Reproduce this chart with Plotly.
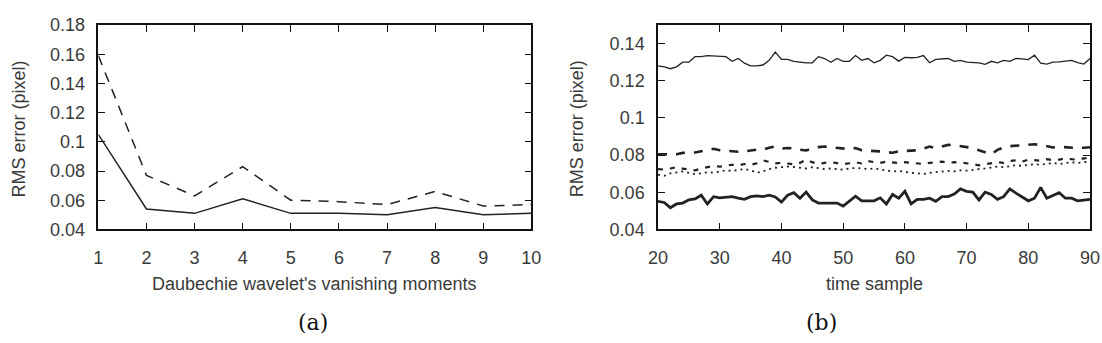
import plotly.graph_objects as go

# ---------- (a) data ----------
moments = [1, 2, 3, 4, 5, 6, 7, 8, 9, 10]
a_solid = [0.105, 0.054, 0.051, 0.061, 0.051, 0.051, 0.050, 0.055, 0.050, 0.051]
a_dashed = [0.159, 0.077, 0.063, 0.083, 0.060, 0.059, 0.057, 0.066, 0.056, 0.057]

# ---------- (b) data ----------
t = list(range(20, 91))
b_thin = [0.128, 0.1275, 0.1265, 0.1275, 0.130, 0.130, 0.133, 0.133, 0.1336, 0.1334,
          0.1328, 0.133, 0.1305, 0.132, 0.1295, 0.128, 0.128, 0.1285, 0.131, 0.1355,
          0.1315, 0.1315, 0.1305, 0.130, 0.1297, 0.1297, 0.133, 0.132, 0.130, 0.132,
          0.1305, 0.1305, 0.1336, 0.131, 0.132, 0.1297, 0.131, 0.1338, 0.133, 0.1306,
          0.1326, 0.1324, 0.1326, 0.1336, 0.1297, 0.1315, 0.1318, 0.132, 0.1305, 0.131,
          0.130, 0.130, 0.1297, 0.1289, 0.1305, 0.1297, 0.131, 0.1305, 0.132, 0.1318,
          0.1314, 0.1338, 0.1295, 0.129, 0.130, 0.1302, 0.1305, 0.131, 0.1298, 0.129,
          0.132]
b_thick = [0.0551, 0.0545, 0.0517, 0.0537, 0.0542, 0.0559, 0.0564, 0.0584, 0.0537, 0.0576,
           0.057, 0.0575, 0.0576, 0.0568, 0.0562, 0.0576, 0.058, 0.0577, 0.0584, 0.0575,
           0.0547, 0.0584, 0.0598, 0.0568, 0.0601, 0.0559, 0.0542, 0.0542, 0.0543, 0.0542,
           0.0525, 0.0551, 0.0579, 0.0554, 0.0555, 0.0554, 0.057, 0.0537, 0.0588, 0.0568,
           0.0605, 0.0537, 0.0562, 0.0562, 0.0568, 0.0551, 0.0576, 0.0577, 0.059, 0.0618,
           0.0605, 0.0601, 0.0559, 0.0601, 0.0588, 0.0562, 0.0576, 0.0618, 0.0595, 0.0575,
           0.0554, 0.0568, 0.0626, 0.0568, 0.0585, 0.0598, 0.0568, 0.0568, 0.0554, 0.0558,
           0.0562]
b_longdash = [0.0804, 0.0804, 0.0806, 0.0805, 0.0812, 0.0813, 0.0814, 0.0821, 0.0828, 0.0834,
              0.0826, 0.0822, 0.082, 0.0818, 0.082, 0.0825, 0.0829, 0.0829, 0.0840, 0.0846,
              0.0835, 0.0838, 0.0836, 0.0829, 0.0825, 0.0835, 0.0843, 0.0846, 0.0842, 0.0838,
              0.0833, 0.0832, 0.0838, 0.0826, 0.0824, 0.0824, 0.082, 0.0816, 0.0813, 0.082,
              0.0822, 0.0823, 0.0826, 0.0835, 0.0846, 0.0838, 0.0848, 0.0855, 0.0853, 0.0849,
              0.0846, 0.0838, 0.0826, 0.0813, 0.0804, 0.0828, 0.0841, 0.0848, 0.0851, 0.0851,
              0.0853, 0.0858, 0.0855, 0.0846, 0.0841, 0.0845, 0.0843, 0.0838, 0.0838, 0.0840,
              0.0842]
b_dash = [0.0725, 0.0722, 0.0728, 0.0735, 0.0727, 0.0722, 0.0718, 0.0728, 0.0736, 0.0742,
          0.0738, 0.0744, 0.0748, 0.0745, 0.0752, 0.0748, 0.0756, 0.0772, 0.0762, 0.0755,
          0.0758, 0.0755, 0.0751, 0.0758, 0.0776, 0.0762, 0.0752, 0.0758, 0.0762, 0.0757,
          0.0752, 0.0756, 0.0762, 0.0755, 0.0768, 0.0762, 0.0758, 0.0765, 0.0762, 0.0757,
          0.0762, 0.0758, 0.0756, 0.0752, 0.0758, 0.0762, 0.0765, 0.0758, 0.0762, 0.0760,
          0.0758, 0.0752, 0.0745, 0.0752, 0.0755, 0.0762, 0.0758, 0.0768, 0.0772, 0.0765,
          0.0775, 0.0772, 0.0770, 0.0778, 0.0772, 0.0776, 0.0782, 0.0778, 0.0775, 0.0782,
          0.0785]
b_dot = [0.0695, 0.0688, 0.0702, 0.0708, 0.0712, 0.0705, 0.0698, 0.0702, 0.0708, 0.0705,
         0.0712, 0.0718, 0.0715, 0.0722, 0.0725, 0.0718, 0.0705, 0.0712, 0.0725, 0.0732,
         0.0735, 0.0738, 0.0736, 0.0732, 0.0728, 0.0735, 0.0728, 0.0725, 0.0728, 0.0726,
         0.0722, 0.0728, 0.0731, 0.0728, 0.0725, 0.0728, 0.0722, 0.0718, 0.0712, 0.0715,
         0.0708, 0.0705, 0.0702, 0.0698, 0.0705, 0.0708, 0.0712, 0.0715, 0.0712, 0.0718,
         0.0716, 0.0722, 0.0725, 0.0728, 0.0732, 0.0738, 0.0735, 0.0742, 0.0746, 0.0742,
         0.0748, 0.0752, 0.0748, 0.0755, 0.0758, 0.0752, 0.0756, 0.0762, 0.0758, 0.0762,
         0.0765]

a_yticks = [0.04, 0.06, 0.08, 0.10, 0.12, 0.14, 0.16, 0.18]
a_yticktext = ["0.04", "0.06", "0.08", "0.1", "0.12", "0.14", "0.16", "0.18"]
b_yticks = [0.04, 0.06, 0.08, 0.10, 0.12, 0.14]
b_yticktext = ["0.04", "0.06", "0.08", "0.1", "0.12", "0.14"]
b_xticks = [20, 30, 40, 50, 60, 70, 80, 90]

W, H = 1102, 343
INK = "#222222"
TXT = "#3a3a3a"
FONT = "Liberation Sans, Arial, sans-serif"

fig = go.Figure()

# (a)
fig.add_trace(go.Scatter(x=moments, y=a_dashed, mode="lines", xaxis="x", yaxis="y",
                         line=dict(color=INK, width=1.5, dash="10px,8px")))
fig.add_trace(go.Scatter(x=moments, y=a_solid, mode="lines", xaxis="x", yaxis="y",
                         line=dict(color=INK, width=1.5)))
# (b)
fig.add_trace(go.Scatter(x=t, y=b_thin, mode="lines", xaxis="x2", yaxis="y2",
                         line=dict(color=INK, width=1.3)))
fig.add_trace(go.Scatter(x=t, y=b_longdash, mode="lines", xaxis="x2", yaxis="y2",
                         line=dict(color=INK, width=2.6, dash="9px,9px")))
fig.add_trace(go.Scatter(x=t, y=b_dash, mode="lines", xaxis="x2", yaxis="y2",
                         line=dict(color=INK, width=2.2, dash="5px,7px")))
fig.add_trace(go.Scatter(x=t, y=b_dot, mode="lines", xaxis="x2", yaxis="y2",
                         line=dict(color=INK, width=1.8, dash="2px,4px")))
fig.add_trace(go.Scatter(x=t, y=b_thick, mode="lines", xaxis="x2", yaxis="y2",
                         line=dict(color=INK, width=2.8)))

ydom = [1 - 233 / H, 1 - 16 / H]
axis_common = dict(showline=True, linecolor="#111111", linewidth=1.5, mirror="ticks",
                   ticks="inside", ticklen=7, tickwidth=1.3, tickcolor="#111111",
                   showgrid=False, zeroline=False,
                   tickfont=dict(family=FONT, size=18, color=TXT))

fig.update_layout(
    width=W, height=H,
    margin=dict(l=0, r=0, t=0, b=0),
    paper_bgcolor="white", plot_bgcolor="white",
    showlegend=False,
    xaxis=dict(domain=[90 / W, 531 / W], range=[1, 10], tickvals=moments,
               ticklabelstandoff=11, anchor="y", **axis_common),
    yaxis=dict(domain=ydom, range=[0.04, 0.18], tickvals=a_yticks, ticktext=a_yticktext,
               ticklabelstandoff=8, anchor="x", **axis_common),
    xaxis2=dict(domain=[660 / W, 1100 / W], range=[20, 90], tickvals=b_xticks,
                ticklabelstandoff=11, anchor="y2", **axis_common),
    yaxis2=dict(domain=ydom, range=[0.04, 0.15], tickvals=b_yticks, ticktext=b_yticktext,
                ticklabelstandoff=8, anchor="x2", **axis_common),
)

ann_font = dict(family=FONT, size=18, color=TXT)
fig.add_annotation(text="Daubechie wavelet's vanishing moments", xref="paper", yref="paper",
                   x=310 / W, y=1 - 291 / H, showarrow=False, font=ann_font,
                   xanchor="center", yanchor="middle")
fig.add_annotation(text="time sample", xref="paper", yref="paper",
                   x=880 / W, y=1 - 291 / H, showarrow=False, font=ann_font,
                   xanchor="center", yanchor="middle")
fig.add_annotation(text="RMS error (pixel)", xref="paper", yref="paper",
                   x=9 / W, y=1 - 126 / H, showarrow=False, font=ann_font, textangle=-90,
                   xanchor="center", yanchor="middle")
fig.add_annotation(text="RMS error (pixel)", xref="paper", yref="paper",
                   x=577 / W, y=1 - 126 / H, showarrow=False, font=ann_font, textangle=-90,
                   xanchor="center", yanchor="middle")
cap_font = dict(family="DejaVu Serif, Liberation Serif, serif", size=22, color="#111111")
fig.add_annotation(text="(a)", xref="paper", yref="paper", x=309 / W, y=1 - 332 / H,
                   showarrow=False, font=cap_font, xanchor="center", yanchor="middle")
fig.add_annotation(text="(b)", xref="paper", yref="paper", x=826 / W, y=1 - 332 / H,
                   showarrow=False, font=cap_font, xanchor="center", yanchor="middle")

fig.write_html("out.html")
